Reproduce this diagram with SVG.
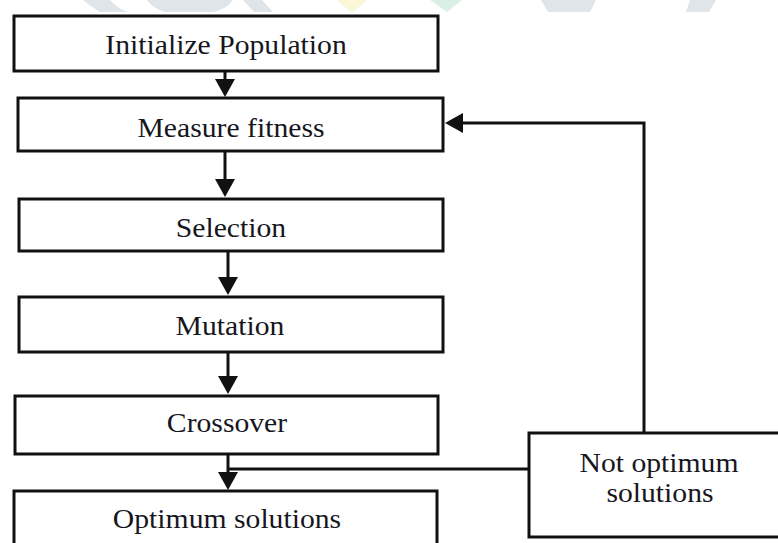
<svg xmlns="http://www.w3.org/2000/svg" width="778" height="543" viewBox="0 0 778 543">
  <style>
    .box { fill: #ffffff; stroke: #111111; stroke-width: 3; }
    .lbl { font-family: "Liberation Serif", "Times New Roman", serif; font-size: 28px; fill: #16161e; text-anchor: middle; }
    .edge { fill: none; stroke: #111111; stroke-width: 3; }
    .wm-gray { fill: #dfe5e8; }
    .wm-yellow { fill: #fbf6d6; }
    .wm-green { fill: #dbf0e4; }
  </style>
  <defs>
    <marker id="arrow" markerUnits="userSpaceOnUse" markerWidth="18" markerHeight="20" viewBox="0 0 18 20" refX="10" refY="10" orient="auto">
      <path d="M0,0 L18,10 L0,20 z" fill="#111111"/>
    </marker>
  </defs>
  <rect width="778" height="543" fill="#ffffff"/>

  <g id="watermark">
    <path class="wm-gray" d="M83,0 L110,0 Q118,9 128,12 L100,12 Q90,6 83,0 z"/>
    <path class="wm-gray" d="M147,0 L233,0 Q226,10 212,12 L165,12 Q152,8 147,0 z"/>
    <path class="wm-gray" d="M243,0 L262,0 L273,12 L254,12 z"/>
    <path class="wm-yellow" d="M337,0 L367,0 L352,13 z"/>
    <path class="wm-green" d="M430,0 L462,0 L447,12 z"/>
    <path class="wm-gray" d="M541,0 L596,0 L590,12 L548,12 z"/>
    <path class="wm-gray" d="M690,0 L716,0 L709,12 L686,12 z"/>
  </g>

  <g id="connectors">
    <line class="edge" x1="225" y1="71" x2="225" y2="89" marker-end="url(#arrow)"/>
    <line class="edge" x1="225" y1="151" x2="225" y2="189" marker-end="url(#arrow)"/>
    <line class="edge" x1="228" y1="251" x2="228" y2="287" marker-end="url(#arrow)"/>
    <line class="edge" x1="228" y1="352" x2="228" y2="386" marker-end="url(#arrow)"/>
    <line class="edge" x1="228" y1="454" x2="228" y2="482" marker-end="url(#arrow)"/>
    <path class="edge" d="M529,469 H228"/>
    <path class="edge" d="M644,433 V123 H453" marker-end="url(#arrow)"/>
  </g>

  <g id="init">
    <rect class="box" x="14" y="16" width="424" height="55"/>
    <text class="lbl" transform="translate(226,54) scale(1.06,1)">Initialize Population</text>
  </g>
  <g id="fitness">
    <rect class="box" x="18" y="98" width="425" height="53"/>
    <text class="lbl" transform="translate(231,137) scale(1.06,1)">Measure fitness</text>
  </g>
  <g id="selection">
    <rect class="box" x="19" y="199" width="424" height="52"/>
    <text class="lbl" transform="translate(231,237) scale(1.06,1)">Selection</text>
  </g>
  <g id="mutation">
    <rect class="box" x="19" y="297" width="424" height="55"/>
    <text class="lbl" transform="translate(230,335) scale(1.06,1)">Mutation</text>
  </g>
  <g id="crossover">
    <rect class="box" x="15" y="396" width="423" height="58"/>
    <text class="lbl" transform="translate(227,432) scale(1.06,1)">Crossover</text>
  </g>
  <g id="optimum">
    <rect class="box" x="14" y="491" width="423" height="70"/>
    <text class="lbl" transform="translate(227,528) scale(1.06,1)">Optimum solutions</text>
  </g>
  <g id="not-optimum">
    <rect class="box" x="529" y="433" width="270" height="104"/>
    <text class="lbl" transform="translate(659,472) scale(1.06,1)">Not optimum</text>
    <text class="lbl" transform="translate(660,502) scale(1.06,1)">solutions</text>
  </g>
</svg>
